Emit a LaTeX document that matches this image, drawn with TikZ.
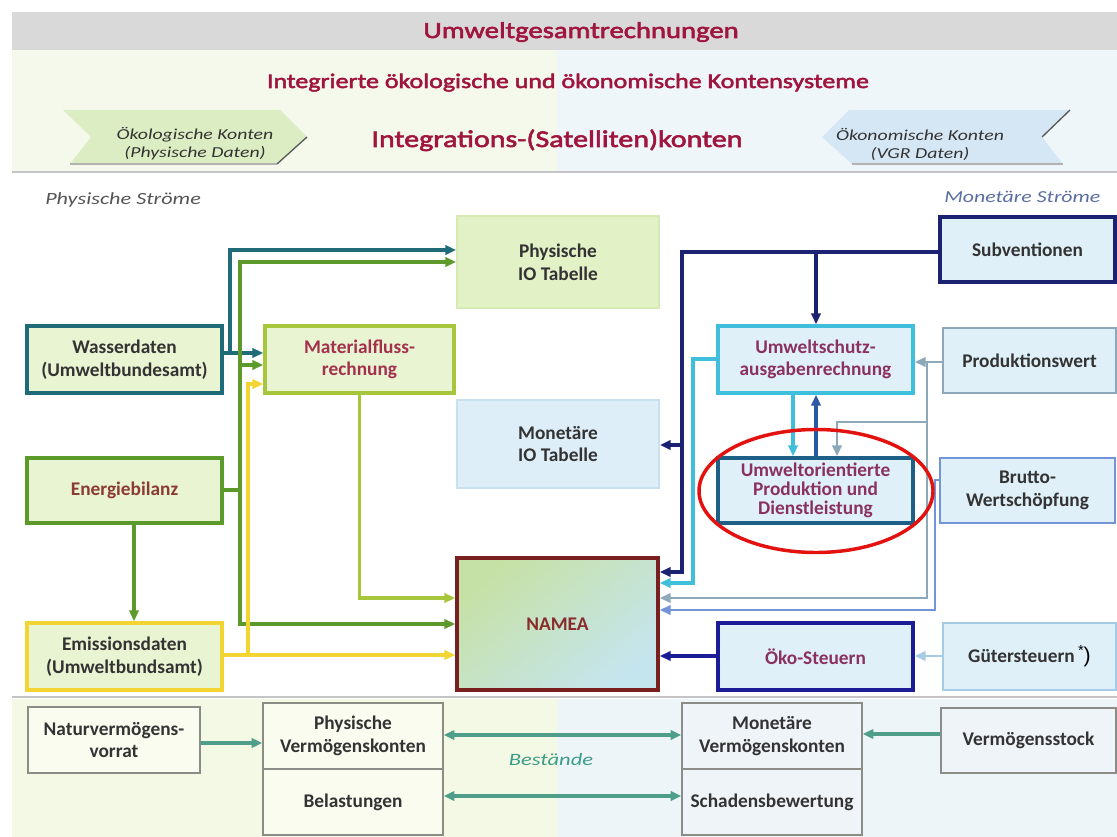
\documentclass[tikz,border=0pt]{standalone}
\usepackage{fontspec}
\setmainfont{Carlito}
\newfontfamily\hdfont[FakeStretch=1.3]{Carlito}
\newfontfamily\hdbold[FakeStretch=1.25,FakeBold=2.5]{Carlito}
\usetikzlibrary{arrows.meta,shapes.geometric}
\definecolor{hdgray}{HTML}{D9D9D9}
\definecolor{palegreen}{HTML}{F4F9EC}
\definecolor{paleblue}{HTML}{EEF6FA}
\definecolor{sepgray}{HTML}{C4C4C4}
\definecolor{titlered}{HTML}{A0153E}
\definecolor{txtgray}{HTML}{333333}
\definecolor{cwater}{HTML}{1F6C78}
\definecolor{colive}{HTML}{5C9A2C}
\definecolor{cmat}{HTML}{A8C63C}
\definecolor{cyel}{HTML}{F2D532}
\definecolor{cnavy}{HTML}{1B2272}
\definecolor{ccyan}{HTML}{3FBFDC}
\definecolor{cblue}{HTML}{2D58A6}
\definecolor{corient}{HTML}{1E5F86}
\definecolor{cgrayb}{HTML}{8CA9BA}
\definecolor{cbrutto}{HTML}{7394D8}
\definecolor{cgueter}{HTML}{A6CBE6}
\definecolor{coeko}{HTML}{1C1C96}
\definecolor{cnamea}{HTML}{7A1F1F}
\definecolor{fgreen}{HTML}{E8F4D2}
\definecolor{fblue}{HTML}{DFF0F9}
\definecolor{pioF}{HTML}{E3F1C7}
\definecolor{pioB}{HTML}{D6EAB3}
\definecolor{mioF}{HTML}{DDEEF8}
\definecolor{mioB}{HTML}{C9E1EF}
\definecolor{tpurple}{HTML}{8A3160}
\definecolor{tmat}{HTML}{A3304D}
\definecolor{tenergie}{HTML}{8C3A34}
\definecolor{tnamea}{HTML}{8A2C2C}
\definecolor{cbottom}{HTML}{8C8C86}
\definecolor{cteal}{HTML}{4F9E89}
\definecolor{tbest}{HTML}{3C9D88}
\definecolor{tmon}{HTML}{5A6EA0}
\definecolor{tphys}{HTML}{555555}
\definecolor{chevG}{HTML}{DCEDC3}
\definecolor{chevB}{HTML}{D5E7F5}
\definecolor{ellred}{HTML}{E3120F}
\definecolor{nameaG}{HTML}{C6E1A6}
\definecolor{nameaB}{HTML}{C5E5EE}
\definecolor{bgG}{HTML}{F4F9E6}
\definecolor{bgB}{HTML}{EDF5F8}
\definecolor{bxG}{HTML}{FBFCF0}
\definecolor{bxB}{HTML}{EEF4F8}
\newcommand\mybxfont{\fontsize{14.5pt}{17pt}\selectfont\bfseries}
\begin{document}
\begin{tikzpicture}[x=0.75pt,y=-0.75pt,
  box/.style 2 args={rectangle, draw, inner sep=0pt, align=center,
    minimum width=#1*0.75pt, minimum height=#2*0.75pt, font=\mybxfont, text=txtgray},
  thick box/.style={line width=2.8pt},
  light box/.style={line width=2pt},
  bbox/.style={draw=cbottom, line width=1.2pt},
  ln/.style={line width=2.7pt},
  lnl/.style={line width=2.2pt},
  arr/.style={-{Triangle[length=8pt,width=7pt]}},
  darr/.style={{Triangle[length=8pt,width=7pt]}-{Triangle[length=8pt,width=7pt]}},
  hdtxt/.style={inner sep=0pt, anchor=base},
]
\useasboundingbox (0,0) rectangle (1117,837);
\fill[white] (0,0) rectangle (1117,837);
% header
\fill[hdgray] (12,12) rectangle (1117,50);
\fill[palegreen] (12,50) rectangle (557,171);
\fill[paleblue] (557,50) rectangle (1117,171);
\draw[sepgray, line width=1.6pt] (12,172) -- (1117,172);
\node[hdtxt, text=titlered, font=\hdbold\fontsize{17.2pt}{19pt}\selectfont] (title) at (581,38) {Umweltgesamtrechnungen};
\node[hdtxt, text=titlered, font=\hdbold\fontsize{15.6pt}{17pt}\selectfont] (integ) at (568,88) {Integrierte ökologische und ökonomische Kontensysteme};
\node[hdtxt, text=titlered, font=\hdbold\fontsize{18pt}{19pt}\selectfont] (satel) at (557,147) {Integrations-(Satelliten)konten};
% chevrons
\fill[chevG] (63,110) -- (280,110) -- (307,137) -- (277,164) -- (70,164) -- (91,137) -- cycle;
\draw[gray!60, line width=1pt] (70,164) -- (277,164);
\draw[gray!70!black, line width=1pt] (277,164) -- (307,137);
\fill[chevB] (822,137) -- (849,110) -- (1070,110) -- (1042,137) -- (1063,164) -- (852,164) -- cycle;
\draw[gray!60, line width=1pt] (852,164) -- (1063,164);
\draw[gray!70!black, line width=1pt] (1070,110) -- (1042,137);
\node[align=center, inner sep=0pt, text=txtgray, font=\hdfont\itshape\fontsize{11.4pt}{13.5pt}\selectfont] (chevl) at (195,144) {Ökologische Konten\\(Physische Daten)};
\node[align=center, inner sep=0pt, text=txtgray, font=\hdfont\itshape\fontsize{11.4pt}{13.5pt}\selectfont] (chevr) at (920,144) {Ökonomische Konten\\(VGR Daten)};
% section labels
\node[inner sep=0pt, anchor=base west, text=tphys, font=\hdfont\itshape\fontsize{12.8pt}{14pt}\selectfont] (physs) at (45,205) {Physische Ströme};
\node[inner sep=0pt, anchor=base west, text=tmon, font=\hdfont\itshape\fontsize{12.6pt}{14pt}\selectfont] (mons) at (944,203) {Monetäre Ströme};
% left boxes
\node[box={195}{67}, thick box, draw=cwater, fill=fgreen] (wasser) at (124.5,359.5) {Wasserdaten\\(Umweltbundesamt)};
\node[box={195}{65}, thick box, draw=colive, fill=fgreen, text=tenergie] (energie) at (124.5,490.5) {Energiebilanz};
\node[box={195}{67}, thick box, draw=cyel, fill=fgreen] (emis) at (124.5,656.5) {Emissionsdaten\\(Umweltbundsamt)};
\node[box={189}{67}, thick box, draw=cmat, fill=fgreen, text=tmat] (mat) at (359.5,359.5) {Materialfluss-\\rechnung};
\node[box={202}{92}, line width=1.4pt, draw=pioB, fill=pioF] (pio) at (558,262) {Physische\\IO Tabelle};
\node[box={202}{88}, line width=1.4pt, draw=mioB, fill=mioF] (mio) at (558,444) {Monetäre\\IO Tabelle};
\node[box={201}{132}, line width=2.8pt, draw=cnamea, top color=nameaG, bottom color=nameaB, shading angle=40, text=tnamea] (namea) at (557.5,624) {NAMEA};
% right boxes
\node[box={195}{67}, thick box, draw=ccyan, fill=fblue, text=tpurple] (uschutz) at (815.5,359.5) {Umweltschutz-\\ausgabenrechnung};
\node[box={195}{65}, thick box, draw=corient, fill=fblue, text=tpurple, font=\fontsize{14.5pt}{14.4pt}\selectfont\bfseries] (uorient) at (815.5,490.5) {Umweltorientierte\\Produktion und\\Dienstleistung};
\node[box={195}{67}, thick box, draw=coeko, fill=fblue, text=tpurple] (oeko) at (815.5,656.5) {Öko-Steuern};
\node[box={175}{65}, thick box, draw=cnavy, fill=fblue] (subv) at (1027.5,249.5) {Subventionen};
\node[box={173}{65}, light box, draw=cgrayb, fill=fblue] (prodw) at (1029.5,360.5) {Produktionswert};
\node[box={175}{65}, light box, draw=cbrutto, fill=fblue] (brutto) at (1027.5,490.5) {Brutto-\\Wertschöpfung};
\node[box={173}{67}, light box, draw=cgueter, fill=fblue] (gueter) at (1029.5,656.5) {Gütersteuern\,{\fontspec{Liberation Sans}\mdseries\color{black}\raisebox{0.7ex}{\fontsize{11pt}{11pt}\selectfont *}\fontsize{16pt}{16pt}\selectfont)}};
% left connectors
\coordinate (jw) at (230,353);
\draw[ln, cwater, arr] (wasser.east |- 0,353) -- (mat.west |- 0,353);
\draw[ln, cwater, arr] (jw) |- (pio.west |- 0,250);
\draw[ln, colive] (energie.east |- 0,490) -- (240,490);
\draw[ln, colive, arr] (240,624) -- (240,262) -- (pio.west |- 0,262);
\draw[ln, colive, arr] (240,365) -- (mat.west |- 0,365);
\draw[ln, colive, arr] (240,622) |- (namea.west |- 0,624);
\draw[ln, cyel, arr] (emis.east |- 0,655) -- (namea.west |- 0,655);
\draw[ln, cyel, arr] (248,655) |- (mat.west |- 0,384);
\draw[ln, cmat, arr] (mat.south) |- (namea.west |- 0,598);
\draw[ln, colive, arr] (energie.south -| 134,0) -- (emis.north -| 134,0);
% right connectors
\draw[ln, cnavy, arr] (subv.west |- 0,252) -| (682,572) -- (namea.east |- 0,572);
\draw[ln, cnavy, arr] (816,252) -- (uschutz.north -| 816,0);
\draw[ln, cnavy, arr] (682,445) -- (mio.east |- 0,445);
\draw[ln, ccyan, arr] (uschutz.west |- 0,359) -| (693,583) -- (namea.east |- 0,583);
\draw[ln, ccyan, arr] (uschutz.south -| 793,0) -- (uorient.north -| 793,0);
\draw[ln, cblue, arr] (uorient.north -| 816,0) -- (uschutz.south -| 816,0);
\draw[lnl, cgrayb, arr] (prodw.west |- 0,362) -- (uschutz.east |- 0,362);
\draw[lnl, cgrayb, arr] (927,362) |- (namea.east |- 0,598);
\draw[lnl, cgrayb, arr] (927,422) -| (uorient.north -| 837,0);
\draw[lnl, cbrutto, arr] (brutto.west |- 0,480) -- (935,480) |- (namea.east |- 0,610);
\draw[ln, coeko, arr] (oeko.west |- 0,656) -- (namea.east |- 0,656);
\draw[lnl, cgueter, arr] (gueter.west |- 0,656) -- (oeko.east |- 0,656);
% highlight ellipse
\draw[ellred, line width=2.6pt] (816,491) ellipse [x radius=117, y radius=61.5];
% bottom section
\fill[bgG] (12,699) rectangle (557,837);
\fill[bgB] (557,699) rectangle (1117,837);
\draw[sepgray, line width=2pt] (12,697) -- (1117,697);
\node[box={172}{66}, bbox, fill=bxG] (natur) at (114,740) {Naturvermögens-\\vorrat};
\node[box={180}{66}, bbox, fill=bxG] (pvk) at (353,736) {Physische\\Vermögenskonten};
\node[box={180}{66}, bbox, fill=bxG] (bel) at (353,802) {Belastungen};
\node[box={180}{66}, bbox, fill=bxB] (mvk) at (772,736) {Monetäre\\Vermögenskonten};
\node[box={180}{66}, bbox, fill=bxB] (schad) at (772,802) {Schadensbewertung};
\node[box={175}{65}, bbox, fill=bxB] (vstock) at (1028.5,740.5) {Vermögensstock};
\node[inner sep=0pt, text=tbest, font=\hdfont\itshape\fontsize{13pt}{14pt}\selectfont] (best) at (551,760) {Bestände};
\draw[ln, cteal, arr] (natur.east |- 0,743) -- (pvk.west |- 0,743);
\draw[ln, cteal, darr] (pvk.east |- 0,735) -- (mvk.west |- 0,735);
\draw[ln, cteal, darr] (bel.east |- 0,796) -- (schad.west |- 0,796);
\draw[ln, cteal, arr] (vstock.west |- 0,734) -- (mvk.east |- 0,734);
\end{tikzpicture}
\end{document}
